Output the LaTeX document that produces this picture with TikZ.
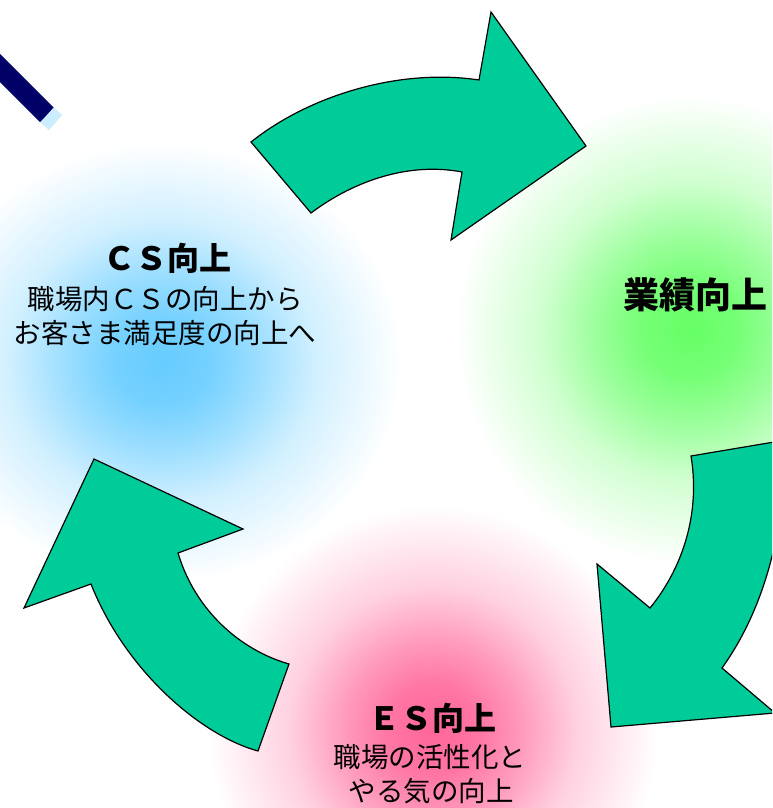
\documentclass[tikz,border=0pt]{standalone}
\usepackage{fontspec}
\setmainfont{Noto Sans CJK JP}
\definecolor{arrowgreen}{RGB}{0,204,153}
\definecolor{navyline}{RGB}{0,0,102}
\definecolor{capblue}{RGB}{204,236,255}
\definecolor{bA}{RGB}{102,204,255}
\colorlet{bB}{bA!90!white}
\colorlet{bC}{bA!65!white}
\colorlet{bD}{bA!30!white}
\definecolor{gA}{RGB}{102,255,102}
\colorlet{gB}{gA!90!white}
\colorlet{gC}{gA!65!white}
\colorlet{gD}{gA!30!white}
\definecolor{pA}{RGB}{255,102,153}
\colorlet{pB}{pA!90!white}
\colorlet{pC}{pA!65!white}
\colorlet{pD}{pA!30!white}
\pgfdeclareradialshading{blueblob}{\pgfpoint{0bp}{0bp}}{color(0bp)=(bA); color(5bp)=(bB); color(10bp)=(bC); color(16bp)=(bD); color(25bp)=(white); color(50bp)=(white)}
\pgfdeclareradialshading{greenblob}{\pgfpoint{0bp}{0bp}}{color(0bp)=(gA); color(5bp)=(gB); color(10bp)=(gC); color(16bp)=(gD); color(25bp)=(white); color(50bp)=(white)}
\pgfdeclareradialshading{pinkblob}{\pgfpoint{0bp}{0bp}}{color(0bp)=(pA); color(5bp)=(pB); color(10bp)=(pC); color(16bp)=(pD); color(25bp)=(white); color(50bp)=(white)}
\tikzset{
  blockarrow/.style={fill=arrowgreen, draw=black, line width=1.2pt, line join=miter},
  title/.style={font=\fontsize{32}{32}\selectfont\bfseries, inner sep=0pt},
  body/.style={font=\fontsize{27.5}{27.5}\selectfont, inner sep=0pt}
}
\begin{document}
\begin{tikzpicture}[x=1pt,y=-1pt]
\useasboundingbox (0,0) rectangle (772,808);
\clip (0,0) rectangle (772,808);
\fill[white] (0,0) rectangle (772,808);
% soft colour blobs
\shade[shading=blueblob] (162,362) ellipse (240pt and 220pt);
\shade[shading=greenblob] (690,330) circle (235pt);
\shade[shading=pinkblob] (433,730) circle (225pt);
% top arrow
\draw[blockarrow] (251,142) .. controls (310,95) and (400,68) .. (479,80)
  -- (491,12) -- (586,146) -- (451,240) -- (462,172)
  .. controls (410,162) and (355,180) .. (311,213) -- cycle;
% right arrow
\draw[blockarrow] (786,440) -- (691,456)
  .. controls (700,510) and (685,565) .. (650,608)
  -- (597,564) -- (611,727) -- (775,713) -- (722,668)
  .. controls (760,615) and (785,540) .. (786,440) -- cycle;
% left arrow
\draw[blockarrow] (289,664) -- (258,751)
  .. controls (200,735) and (125,670) .. (91,584)
  -- (24,608) -- (94,459) -- (243,529) -- (178,553)
  .. controls (195,610) and (240,650) .. (289,664) -- cycle;
% top-left stroke
\draw[navyline, line width=20pt] (-20,48) -- (47,115);
\draw[capblue, line width=20pt] (47,115) -- (55.5,122.5);
% texts
\node[title] (cst) at (167,258) {ＣＳ向上};
\node[body] (cs1) at (165,299) {職場内ＣＳの向上から};
\node[body] (cs2) at (165,333) {お客さま満足度の向上へ};
\node[title, font=\fontsize{36}{36}\selectfont\bfseries] (gyo) at (695,295) {業績向上};
\node[title] (est) at (432,718) {ＥＳ向上};
\node[body] (es1) at (430,757) {職場の活性化と};
\node[body] (es2) at (431,791) {やる気の向上};
\end{tikzpicture}
\end{document}
